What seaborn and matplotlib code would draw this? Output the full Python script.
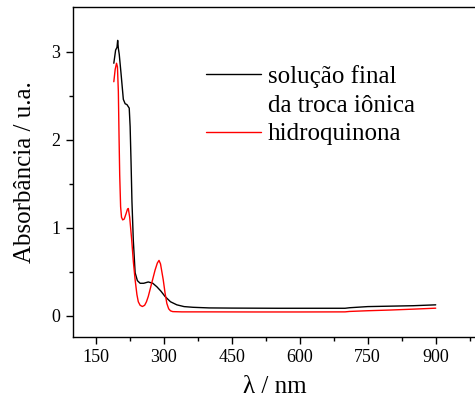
import numpy as np
import pandas as pd
import matplotlib
matplotlib.use("Agg")
import matplotlib.pyplot as plt
import seaborn as sns

# ---------------------- dados ----------------------
nm_solucao = [190, 194, 197, 198.5, 200, 202, 206, 211, 215, 219, 224, 226, 228,
              230, 233, 237, 242, 248, 256, 266, 276, 285, 294, 303, 315, 329,
              345, 365, 400, 450, 500, 550, 600, 650, 700, 710, 750, 800, 850, 900]
abs_solucao = [2.87, 3.02, 3.05, 3.13, 3.04, 2.97, 2.75, 2.46, 2.41, 2.40, 2.36, 2.15, 1.75,
               1.30, 0.86, 0.49, 0.40, 0.37, 0.37, 0.385, 0.37, 0.33, 0.28, 0.22, 0.16, 0.125,
               0.105, 0.097, 0.09, 0.088, 0.087, 0.086, 0.086, 0.086, 0.086, 0.092, 0.105, 0.11, 0.115, 0.125]

nm_hidroq = [190, 193, 196, 198, 200, 201.5, 203, 205, 207, 209.6, 213, 217, 220, 222,
             225, 229.5, 233, 237, 241, 244, 248, 253, 258, 262, 266, 271, 276, 281,
             286, 289.7, 293, 296, 299, 303, 307, 311, 315, 320, 340, 400, 500, 600,
             700, 710, 750, 800, 850, 900]
abs_hidroq = [2.66, 2.80, 2.87, 2.83, 2.55, 2.05, 1.60, 1.24, 1.12, 1.09, 1.10, 1.16, 1.21, 1.22,
              1.12, 0.86, 0.62, 0.41, 0.24, 0.16, 0.12, 0.106, 0.12, 0.16, 0.22, 0.32, 0.42, 0.52,
              0.60, 0.63, 0.59, 0.50, 0.41, 0.26, 0.14, 0.08, 0.057, 0.048, 0.045, 0.045, 0.044, 0.044,
              0.045, 0.05, 0.058, 0.066, 0.076, 0.087]

rotulos = ["solução final", "hidroquinona"]
cores = {"solução final": "black", "hidroquinona": "red"}

df = pd.concat([
    pd.DataFrame({"nm": nm_solucao, "abs": abs_solucao, "amostra": rotulos[0]}),
    pd.DataFrame({"nm": nm_hidroq, "abs": abs_hidroq, "amostra": rotulos[1]}),
], ignore_index=True)

# ---------------------- figura ----------------------
sns.set_style("ticks")
plt.rcParams["font.family"] = ["Liberation Serif", "DejaVu Serif"]
plt.rcParams["text.color"] = "black"
plt.rcParams["axes.labelcolor"] = "black"
plt.rcParams["xtick.color"] = "black"
plt.rcParams["ytick.color"] = "black"

fig = plt.figure(figsize=(4.75, 4.05), dpi=100)
ax = fig.add_axes([0.1537, 0.168, 0.8495, 0.8149])

sns.lineplot(data=df, x="nm", y="abs", hue="amostra", palette=cores,
             estimator=None, sort=False, linewidth=1.0, ax=ax, legend=False)

ax.set_xlim(100, 990)
ax.set_ylim(-0.24, 3.51)
ax.set_xticks([150, 300, 450, 600, 750, 900])
ax.set_xticks([225, 375, 525, 675, 825, 975], minor=True)
ax.set_yticks([0, 1, 2, 3])
ax.set_yticks([0.5, 1.5, 2.5], minor=True)
ax.tick_params(axis="both", which="major", direction="out", length=5, width=1,
               labelsize=13, colors="black", pad=4)
ax.tick_params(axis="both", which="minor", direction="out", length=3, width=1, colors="black")
for lado in ["left", "bottom", "top"]:
    ax.spines[lado].set_visible(True)
    ax.spines[lado].set_linewidth(1.0)
    ax.spines[lado].set_color("black")
ax.spines["right"].set_visible(False)

ax.set_xlabel("λ / nm", fontsize=18, labelpad=7)
ax.set_ylabel("Absorbância / u.a.", fontsize=18, labelpad=11)

# legenda: três linhas, a segunda sem traço
h1, = ax.plot([], [], color="black", lw=1.0)
h2, = ax.plot([], [], color="none", lw=1.0)
h3, = ax.plot([], [], color="red", lw=1.0)
ax.legend([h1, h2, h3], ["solução final", "da troca iônica", "hidroquinona"],
          loc="upper left", bbox_to_anchor=(0.306, 0.855), frameon=False,
          fontsize=18, handlelength=2.2, handletextpad=0.25, labelspacing=0.25,
          borderaxespad=0, labelcolor="black")

fig.savefig("out.png", dpi=100)
